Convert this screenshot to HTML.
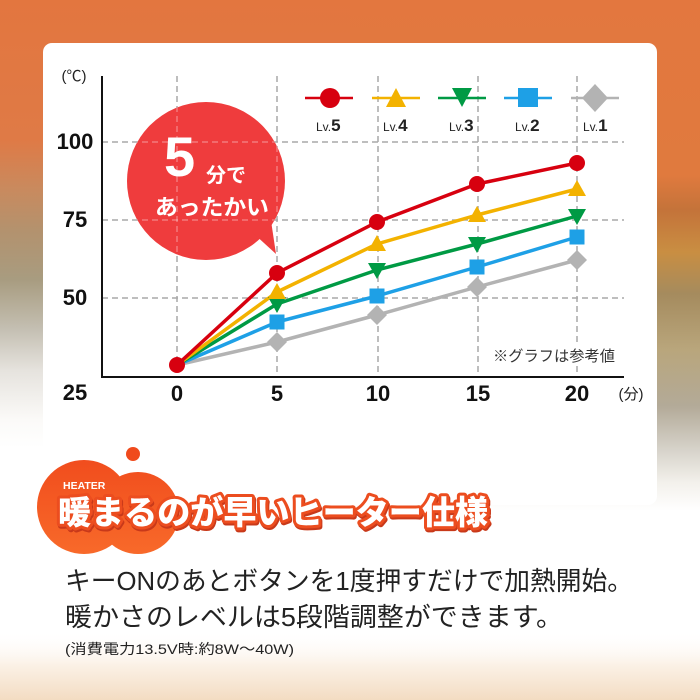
<!DOCTYPE html>
<html><head><meta charset="utf-8">
<style>
html,body{margin:0;padding:0;background:#fff;}
body{width:700px;height:700px;overflow:hidden;position:relative;}
svg{position:absolute;left:0;top:0;}
.num{font-family:"Liberation Sans",sans-serif;font-weight:bold;fill:#111;}
.jp{font-family:"Liberation Sans","Noto Sans CJK JP",sans-serif;}
</style></head>
<body>
<svg width="700" height="700" viewBox="0 0 700 700" xmlns="http://www.w3.org/2000/svg">
<defs>
<linearGradient id="gl" x1="0" y1="0" x2="0" y2="700" gradientUnits="userSpaceOnUse">
<stop offset="0" stop-color="#e3763f"/>
<stop offset="0.2" stop-color="#df7a46"/>
<stop offset="0.27" stop-color="#c98a5e"/>
<stop offset="0.33" stop-color="#b3926e"/>
<stop offset="0.4" stop-color="#a89c80"/>
<stop offset="0.47" stop-color="#c4bfb2"/>
<stop offset="0.53" stop-color="#e6e3de"/>
<stop offset="0.6" stop-color="#fbfaf8"/>
<stop offset="0.64" stop-color="#ffffff"/>
<stop offset="1" stop-color="#ffffff"/>
</linearGradient>
<linearGradient id="gr" x1="0" y1="0" x2="0" y2="700" gradientUnits="userSpaceOnUse">
<stop offset="0" stop-color="#e3773f"/>
<stop offset="0.25" stop-color="#e07a3e"/>
<stop offset="0.3" stop-color="#c4733a"/>
<stop offset="0.36" stop-color="#c98e42"/>
<stop offset="0.42" stop-color="#a58b5e"/>
<stop offset="0.5" stop-color="#b9a67c"/>
<stop offset="0.58" stop-color="#b3aa98"/>
<stop offset="0.64" stop-color="#d5d1c8"/>
<stop offset="0.69" stop-color="#f3f1ec"/>
<stop offset="0.73" stop-color="#ffffff"/>
<stop offset="1" stop-color="#ffffff"/>
</linearGradient>
<linearGradient id="gb" x1="0" y1="630" x2="0" y2="700" gradientUnits="userSpaceOnUse">
<stop offset="0" stop-color="#ffffff" stop-opacity="0"/>
<stop offset="0.5" stop-color="#fbf1e6"/>
<stop offset="1" stop-color="#f3dcc2"/>
</linearGradient>
<linearGradient id="gh" x1="0" y1="450" x2="0" y2="556" gradientUnits="userSpaceOnUse">
<stop offset="0" stop-color="#f04a1c"/>
<stop offset="1" stop-color="#f86a2a"/>
</linearGradient>
<clipPath id="bc">
<circle cx="206" cy="181" r="79"/>
<polygon points="252,232 270,214 276,254"/>
</clipPath>
</defs>

<!-- background -->
<rect x="0" y="0" width="350" height="700" fill="url(#gl)"/>
<rect x="350" y="0" width="350" height="700" fill="url(#gr)"/>
<rect x="0" y="630" width="700" height="70" fill="url(#gb)"/>

<!-- card -->
<rect x="43" y="43" width="614" height="462" rx="9" fill="#ffffff"/>

<!-- grid -->
<g stroke="#a9a9a9" stroke-width="1.5" stroke-dasharray="6 4" fill="none">
<line x1="102" y1="142" x2="624" y2="142"/>
<line x1="102" y1="220" x2="624" y2="220"/>
<line x1="102" y1="298" x2="624" y2="298"/>
<line x1="177" y1="76" x2="177" y2="377"/>
<line x1="277" y1="76" x2="277" y2="377"/>
<line x1="378" y1="76" x2="378" y2="377"/>
<line x1="478" y1="76" x2="478" y2="377"/>
<line x1="577" y1="76" x2="577" y2="377"/>
</g>

<!-- note -->
<rect x="490" y="345" width="128" height="20" fill="#fff"/>
<text x="493" y="361" class="jp" font-size="15" fill="#333" textLength="122" lengthAdjust="spacingAndGlyphs">※グラフは参考値</text>

<!-- axes -->
<line x1="102" y1="76" x2="102" y2="378" stroke="#111" stroke-width="2"/>
<line x1="101" y1="377" x2="624" y2="377" stroke="#111" stroke-width="2"/>

<!-- axis labels -->
<text x="74" y="81" class="jp" font-size="15" fill="#222" text-anchor="middle">(℃)</text>
<text x="75" y="149" class="num" font-size="22" text-anchor="middle">100</text>
<text x="75" y="227" class="num" font-size="22" text-anchor="middle">75</text>
<text x="75" y="305" class="num" font-size="22" text-anchor="middle">50</text>
<text x="75" y="400" class="num" font-size="22" text-anchor="middle">25</text>
<text x="177" y="401" class="num" font-size="22" text-anchor="middle">0</text>
<text x="277" y="401" class="num" font-size="22" text-anchor="middle">5</text>
<text x="378" y="401" class="num" font-size="22" text-anchor="middle">10</text>
<text x="478" y="401" class="num" font-size="22" text-anchor="middle">15</text>
<text x="577" y="401" class="num" font-size="22" text-anchor="middle">20</text>
<text x="631" y="399" class="jp" font-size="15" fill="#222" text-anchor="middle">(分)</text>

<!-- series lines -->
<g fill="none" stroke-width="3.5" stroke-linejoin="round">
<polyline stroke="#b3b3b3" points="177,365 277,342 377,315 477,287 577,260"/>
<polyline stroke="#1ea0e6" points="177,365 277,322 377,296 477,267 577,237"/>
<polyline stroke="#009a44" points="177,365 277,304 377,270 477,244 577,216"/>
<polyline stroke="#f3b200" points="177,365 277,292 377,244 477,215 577,189"/>
<polyline stroke="#d7000f" points="177,365 277,273 377,222 477,184 577,163"/>
</g>

<!-- markers -->
<g fill="#b3b3b3">
<polygon points="277,332 287,342 277,352 267,342"/>
<polygon points="377,305 387,315 377,325 367,315"/>
<polygon points="477,277 487,287 477,297 467,287"/>
<polygon points="577,250 587,260 577,270 567,260"/>
</g>
<g fill="#1ea0e6">
<rect x="269.5" y="314.5" width="15" height="15"/>
<rect x="369.5" y="288.5" width="15" height="15"/>
<rect x="469.5" y="259.5" width="15" height="15"/>
<rect x="569.5" y="229.5" width="15" height="15"/>
</g>
<g fill="#009a44">
<polygon points="268,297 286,297 277,313"/>
<polygon points="368,263 386,263 377,279"/>
<polygon points="468,237 486,237 477,253"/>
<polygon points="568,209 586,209 577,225"/>
</g>
<g fill="#f3b200">
<polygon points="277,283 286,299 268,299"/>
<polygon points="377,235 386,251 368,251"/>
<polygon points="477,206 486,222 468,222"/>
<polygon points="577,180 586,196 568,196"/>
</g>
<g fill="#d7000f">
<circle cx="277" cy="273" r="8"/>
<circle cx="377" cy="222" r="8"/>
<circle cx="477" cy="184" r="8"/>
<circle cx="577" cy="163" r="8"/>
<circle cx="177" cy="365" r="8"/>
</g>

<!-- legend -->
<g stroke-width="2.5">
<line x1="305" y1="98" x2="353" y2="98" stroke="#d7000f"/>
<line x1="372" y1="98" x2="420" y2="98" stroke="#f3b200"/>
<line x1="438" y1="98" x2="486" y2="98" stroke="#009a44"/>
<line x1="504" y1="98" x2="552" y2="98" stroke="#1ea0e6"/>
<line x1="571" y1="98" x2="619" y2="98" stroke="#b3b3b3"/>
</g>
<circle cx="330" cy="98" r="10" fill="#d7000f"/>
<polygon points="396,88 406,107 386,107" fill="#f3b200"/>
<polygon points="452,88 472,88 462,107" fill="#009a44"/>
<rect x="518" y="88" width="20" height="19" fill="#1ea0e6"/>
<polygon points="595,84 608,98 595,112 582,98" fill="#b3b3b3"/>
<g font-family="Liberation Sans, sans-serif" fill="#222">
<text x="316" y="131"><tspan font-size="12">Lv.</tspan><tspan font-size="17" font-weight="bold">5</tspan></text>
<text x="383" y="131"><tspan font-size="12">Lv.</tspan><tspan font-size="17" font-weight="bold">4</tspan></text>
<text x="449" y="131"><tspan font-size="12">Lv.</tspan><tspan font-size="17" font-weight="bold">3</tspan></text>
<text x="515" y="131"><tspan font-size="12">Lv.</tspan><tspan font-size="17" font-weight="bold">2</tspan></text>
<text x="583" y="131"><tspan font-size="12">Lv.</tspan><tspan font-size="17" font-weight="bold">1</tspan></text>
</g>

<!-- bubble -->
<circle cx="206" cy="181" r="79" fill="#ef3c3d"/>
<polygon points="252,232 270,214 276,254" fill="#ef3c3d"/>
<g clip-path="url(#bc)" stroke="#ffffff" stroke-opacity="0.32" stroke-width="1.5" stroke-dasharray="6 4">
<line x1="102" y1="142" x2="624" y2="142"/>
<line x1="102" y1="220" x2="624" y2="220"/>
<line x1="177" y1="76" x2="177" y2="377"/>
<line x1="277" y1="76" x2="277" y2="377"/>
</g>
<text x="164" y="176" font-family="Liberation Sans, sans-serif" font-weight="bold" font-size="56" fill="#fff">5</text>
<text x="206" y="182" class="jp" font-weight="bold" font-size="20" fill="#fff">分で</text>
<text x="155" y="215" class="jp" font-weight="bold" font-size="22" fill="#fff" textLength="114" lengthAdjust="spacingAndGlyphs">あったかい</text>

<!-- heading blob -->
<circle cx="84" cy="507" r="47" fill="url(#gh)"/>
<circle cx="138" cy="513" r="41" fill="url(#gh)"/>
<circle cx="133" cy="454" r="7" fill="#f04a1c"/>
<text x="63" y="489" font-family="Liberation Sans, sans-serif" font-weight="bold" font-size="10.5" fill="#fff">HEATER</text>
<text x="59" y="526" class="jp" font-weight="900" font-size="33" fill="#c8391a" stroke="#c8391a" stroke-width="6" stroke-linejoin="round" textLength="430" lengthAdjust="spacingAndGlyphs">暖まるのが早いヒーター仕様</text>
<text x="58" y="524" class="jp" font-weight="900" font-size="33" fill="#fff" stroke="#ec4d1f" stroke-width="6" stroke-linejoin="round" paint-order="stroke" textLength="430" lengthAdjust="spacingAndGlyphs">暖まるのが早いヒーター仕様</text>

<!-- body text -->
<text x="65" y="590" class="jp" font-size="26" fill="#222" textLength="568" lengthAdjust="spacingAndGlyphs">キーONのあとボタンを1度押すだけで加熱開始。</text>
<text x="65" y="626" class="jp" font-size="26" fill="#222" textLength="498" lengthAdjust="spacingAndGlyphs">暖かさのレベルは5段階調整ができます。</text>
<text x="65" y="654" class="jp" font-size="14" fill="#222" textLength="229" lengthAdjust="spacingAndGlyphs">(消費電力13.5V時:約8W〜40W)</text>
</svg>
</body></html>
